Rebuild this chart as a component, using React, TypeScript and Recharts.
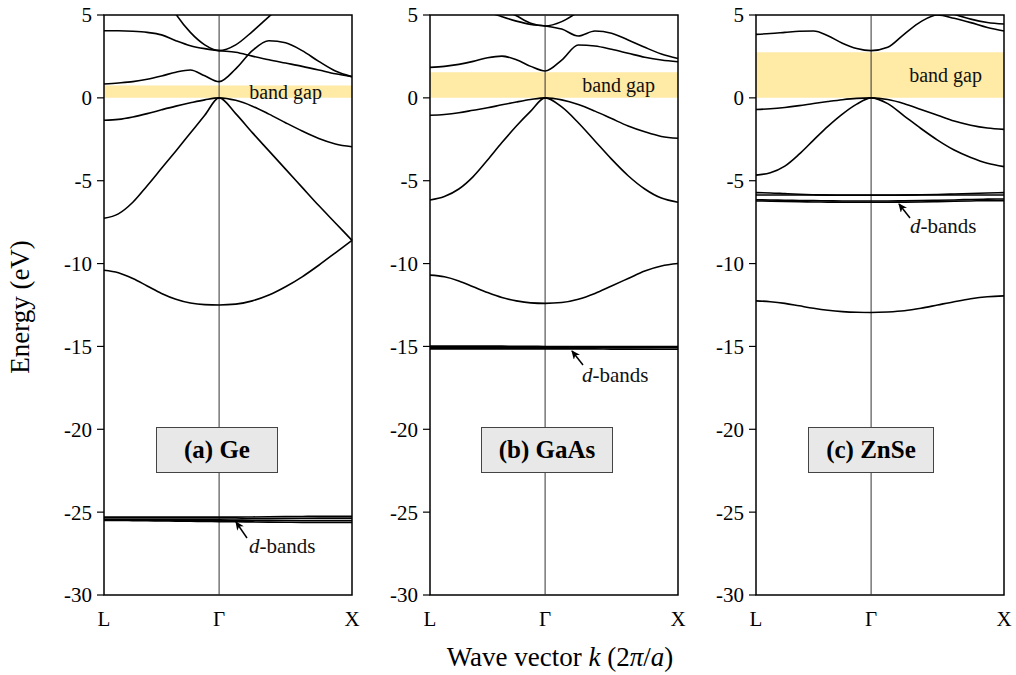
import React from 'react';
import { LineChart, Line, XAxis, YAxis, ReferenceArea, ReferenceLine } from 'recharts';

const SERIF = 'Liberation Serif, Times New Roman, Times, serif';

// sample points along the path, L = 0, Gamma = 0.866, X = 1.866
const kPath = [0, 0.108, 0.217, 0.325, 0.433, 0.541, 0.65, 0.758, 0.866, 0.991, 1.116, 1.241, 1.366, 1.491, 1.616, 1.741, 1.866];
const kTicks = [0, 0.866, 1.866];
const kNames = ['L', 'Γ', 'X'];
const energyTicks = [5, 0, -5, -10, -15, -20, -25, -30];

// (a) Ge
const geV1 = [-10.4, -10.55, -10.9, -11.35, -11.8, -12.15, -12.38, -12.48, -12.5, -12.45, -12.25, -11.9, -11.4, -10.8, -10.1, -9.35, -8.6];
const geV2 = [-7.27, -7.0, -6.3, -5.3, -4.25, -3.2, -2.12, -1.05, 0, -0.95, -2.1, -3.2, -4.3, -5.4, -6.5, -7.55, -8.6];
const geV3 = [-1.35, -1.3, -1.15, -0.95, -0.72, -0.5, -0.3, -0.12, 0, -0.15, -0.5, -0.98, -1.5, -2.0, -2.45, -2.78, -2.95];
const geC1 = [0.84, 0.9, 0.98, 1.12, 1.32, 1.55, 1.68, 1.33, 0.98, 1.75, 2.85, 3.45, 3.32, 2.85, 2.2, 1.62, 1.28];
const geC2 = [4.05, 4.05, 4.02, 3.95, 3.8, 3.45, 3.15, 2.97, 2.85, 2.75, 2.52, 2.3, 2.1, 1.9, 1.68, 1.45, 1.28];
const geC3 = [null, null, null, null, 6.5, 5.05, 3.95, 3.2, 2.85, 3.2, 4.0, 4.9, 5.8, null, null, null, null];
const geD1 = [-25.3, -25.3, -25.3, -25.3, -25.3, -25.3, -25.3, -25.3, -25.3, -25.3, -25.29, -25.28, -25.27, -25.26, -25.25, -25.25, -25.25];
const geD2 = [-25.42, -25.42, -25.42, -25.42, -25.42, -25.42, -25.42, -25.42, -25.42, -25.41, -25.4, -25.39, -25.38, -25.37, -25.36, -25.36, -25.36];
const geD3 = [-25.47, -25.47, -25.47, -25.48, -25.48, -25.49, -25.49, -25.5, -25.5, -25.5, -25.5, -25.5, -25.5, -25.5, -25.5, -25.5, -25.5];
const geD4 = [-25.5, -25.5, -25.51, -25.52, -25.53, -25.54, -25.55, -25.56, -25.57, -25.58, -25.59, -25.6, -25.61, -25.62, -25.62, -25.62, -25.62];

// (b) GaAs
const gaV1 = [-10.7, -10.8, -11.05, -11.4, -11.75, -12.05, -12.25, -12.37, -12.4, -12.35, -12.15, -11.8, -11.35, -10.9, -10.45, -10.15, -10.0];
const gaV2 = [-6.16, -5.95, -5.5, -4.75, -3.75, -2.7, -1.7, -0.8, 0, -0.55, -1.5, -2.6, -3.7, -4.7, -5.5, -6.05, -6.3];
const gaV3 = [-1.05, -1.0, -0.9, -0.75, -0.6, -0.42, -0.25, -0.1, 0, -0.12, -0.4, -0.8, -1.25, -1.7, -2.05, -2.33, -2.44];
const gaC1 = [1.84, 1.9, 2.02, 2.2, 2.42, 2.52, 2.3, 1.9, 1.62, 2.28, 3.19, 3.13, 2.93, 2.69, 2.45, 2.28, 2.18];
const gaC2 = [null, null, null, 5.6, 5.2, 4.9, 4.63, 4.43, 4.34, 4.15, 3.73, 4.03, 3.9, 3.49, 3.05, 2.65, 2.38];
const gaC3 = [null, null, null, null, null, 5.4, 4.95, 4.5, 4.34, 4.6, 5.2, 6.0, null, null, null, null, null];
const gaD1 = [-14.98, -14.98, -14.98, -14.98, -14.98, -14.98, -14.99, -14.99, -15.0, -15.0, -15.0, -15.0, -15.0, -15.0, -15.0, -15.0, -15.0];
const gaD2 = [-15.08, -15.08, -15.08, -15.08, -15.08, -15.08, -15.08, -15.08, -15.08, -15.08, -15.08, -15.08, -15.08, -15.07, -15.06, -15.05, -15.05];
const gaD3 = [-15.15, -15.15, -15.15, -15.15, -15.15, -15.15, -15.15, -15.15, -15.15, -15.15, -15.15, -15.15, -15.16, -15.16, -15.16, -15.16, -15.16];

// (c) ZnSe
const znV1 = [-12.25, -12.3, -12.4, -12.55, -12.7, -12.82, -12.9, -12.94, -12.95, -12.92, -12.85, -12.7, -12.5, -12.3, -12.12, -12.0, -11.95];
const znV2 = [-4.66, -4.52, -4.12, -3.4, -2.55, -1.72, -0.98, -0.38, 0, -0.35, -1.1, -1.85, -2.55, -3.15, -3.6, -3.95, -4.15];
const znV3 = [-0.7, -0.66, -0.58, -0.47, -0.34, -0.22, -0.11, -0.03, 0, -0.1, -0.35, -0.7, -1.05, -1.4, -1.65, -1.82, -1.9];
const znC1 = [3.83, 3.88, 3.95, 4.02, 4.03, 3.75, 3.3, 2.98, 2.85, 3.05, 3.85, 4.6, 5.0, 4.8, 4.54, 4.25, 4.03];
const znC2 = [null, null, null, null, null, null, null, null, null, null, null, null, 5.4, 5.05, 4.75, 4.55, 4.46];
const znD1 = [-5.72, -5.74, -5.78, -5.82, -5.85, -5.87, -5.88, -5.88, -5.88, -5.88, -5.87, -5.85, -5.83, -5.8, -5.77, -5.74, -5.72];
const znD2 = [-5.86, -5.86, -5.86, -5.86, -5.86, -5.86, -5.86, -5.86, -5.86, -5.86, -5.86, -5.86, -5.86, -5.86, -5.86, -5.86, -5.86];
const znD3 = [-6.15, -6.16, -6.18, -6.19, -6.2, -6.21, -6.22, -6.22, -6.22, -6.22, -6.21, -6.2, -6.18, -6.16, -6.13, -6.11, -6.1];
const znD4 = [-6.22, -6.23, -6.25, -6.27, -6.28, -6.29, -6.3, -6.3, -6.3, -6.3, -6.29, -6.28, -6.26, -6.24, -6.22, -6.2, -6.2];

const geGap = 0.74;
const gaGap = 1.55;
const znGap = 2.75;

type Band = (number | null)[];

interface PanelProps {
  bands: Band[];
  gap: number;
  left: number;
  axisWidth: number;
  gapOffset: number;
}

function BandPanel({ bands, gap, left, axisWidth, gapOffset }: PanelProps) {
  const rows = kPath.map((k, i) => {
    const row: Record<string, number | null> = { k };
    bands.forEach((b, j) => {
      row[`b${j}`] = b[i];
    });
    return row;
  });

  return (
    <div style={{ position: 'absolute', left, top: 0 }}>
      <LineChart
        width={axisWidth + 248 + 8}
        height={640}
        data={rows}
        margin={{ top: 15, right: 8, bottom: 15, left: 0 }}
      >
        <XAxis
          dataKey="k"
          type="number"
          domain={[0, 1.866]}
          ticks={kTicks}
          interval={0}
          tickFormatter={(v: number) => kNames[kTicks.indexOf(v)] ?? ''}
          tickLine={false}
          axisLine={false}
          tickSize={6}
          tickMargin={10}
          height={30}
          tick={{ fill: '#000', fontSize: 21, fontFamily: SERIF }}
        />
        <YAxis
          type="number"
          domain={[-30, 5]}
          ticks={energyTicks}
          interval={0}
          allowDataOverflow
          width={axisWidth}
          tickSize={7}
          tickMargin={5}
          axisLine={false}
          tickLine={{ stroke: '#000', strokeWidth: 1.2 }}
          tick={{ fill: '#000', fontSize: 21, fontFamily: SERIF }}
        />
        <ReferenceArea
          x1={0}
          x2={1.866}
          y1={0}
          y2={gap}
          fill="#ffeaa6"
          fillOpacity={1}
          stroke="none"
          label={{
            value: 'band gap',
            position: 'insideRight',
            offset: gapOffset,
            fill: '#111',
            fontSize: 20,
            fontFamily: SERIF,
          }}
        />
        <ReferenceLine x={0.866} stroke="#333" strokeWidth={1} />
        {bands.map((_, j) => (
          <Line
            key={j}
            dataKey={`b${j}`}
            type="monotone"
            stroke="#000"
            strokeWidth={1.6}
            dot={false}
            activeDot={false}
            connectNulls={false}
            isAnimationActive={false}
          />
        ))}
        <ReferenceArea x1={0} x2={1.866} y1={-30} y2={5} fill="none" stroke="#000" strokeWidth={1.5} />
      </LineChart>
    </div>
  );
}

const boxStyle: React.CSSProperties = {
  position: 'absolute',
  top: 427,
  height: 46,
  background: '#e8e8e8',
  border: '1.5px solid #444',
  boxSizing: 'border-box',
  display: 'flex',
  alignItems: 'center',
  justifyContent: 'center',
  fontFamily: SERIF,
  fontWeight: 'bold',
  fontSize: 25,
  color: '#000',
};

export default function App() {
  return (
    <div style={{ position: 'absolute', left: 0, top: 0, width: 1016, height: 675, background: '#fff', fontFamily: SERIF }}>
      <BandPanel bands={[geV1, geV2, geV3, geC1, geC2, geC3, geD1, geD2, geD3, geD4]} gap={geGap} left={0} axisWidth={104} gapOffset={30} />
      <BandPanel bands={[gaV1, gaV2, gaV3, gaC1, gaC2, gaC3, gaD1, gaD2, gaD3]} gap={gaGap} left={350} axisWidth={80} gapOffset={23} />
      <BandPanel bands={[znV1, znV2, znV3, znC1, znC2, znD1, znD2, znD3, znD4]} gap={znGap} left={676} axisWidth={80} gapOffset={22} />

      <div style={{ ...boxStyle, left: 156, width: 122 }}>(a) Ge</div>
      <div style={{ ...boxStyle, left: 481, width: 132 }}>(b) GaAs</div>
      <div style={{ ...boxStyle, left: 808, width: 126 }}>(c) ZnSe</div>

      <svg width={1016} height={675} style={{ position: 'absolute', left: 0, top: 0, pointerEvents: 'none' }}>
        <defs>
          <marker id="arrowHead" markerWidth="9" markerHeight="8" refX="8" refY="4" orient="auto" markerUnits="userSpaceOnUse">
            <path d="M0,0 L9,4 L0,8 L2.5,4 z" fill="#000" />
          </marker>
        </defs>
        <line x1={247} y1={538} x2={236} y2={522} stroke="#000" strokeWidth={1.5} markerEnd="url(#arrowHead)" />
        <line x1={583} y1={365} x2={572} y2={351} stroke="#000" strokeWidth={1.5} markerEnd="url(#arrowHead)" />
        <line x1={910} y1={218} x2={899} y2={204} stroke="#000" strokeWidth={1.5} markerEnd="url(#arrowHead)" />
        <g fontFamily={SERIF} fontSize={21} fill="#111">
          <text x={249} y={553}><tspan fontStyle="italic">d</tspan>-bands</text>
          <text x={582} y={382}><tspan fontStyle="italic">d</tspan>-bands</text>
          <text x={910} y={233}><tspan fontStyle="italic">d</tspan>-bands</text>
        </g>
        <text
          x={23}
          y={307}
          transform="rotate(-90 23 307)"
          textAnchor="middle"
          dominantBaseline="middle"
          fontFamily={SERIF}
          fontSize={27}
          fill="#000"
        >
          Energy (eV)
        </text>
        <text x={560} y={666} textAnchor="middle" fontFamily={SERIF} fontSize={27} fill="#000">
          Wave vector <tspan fontStyle="italic">k</tspan> (2<tspan fontStyle="italic">π</tspan>/<tspan fontStyle="italic">a</tspan>)
        </text>
      </svg>
    </div>
  );
}
